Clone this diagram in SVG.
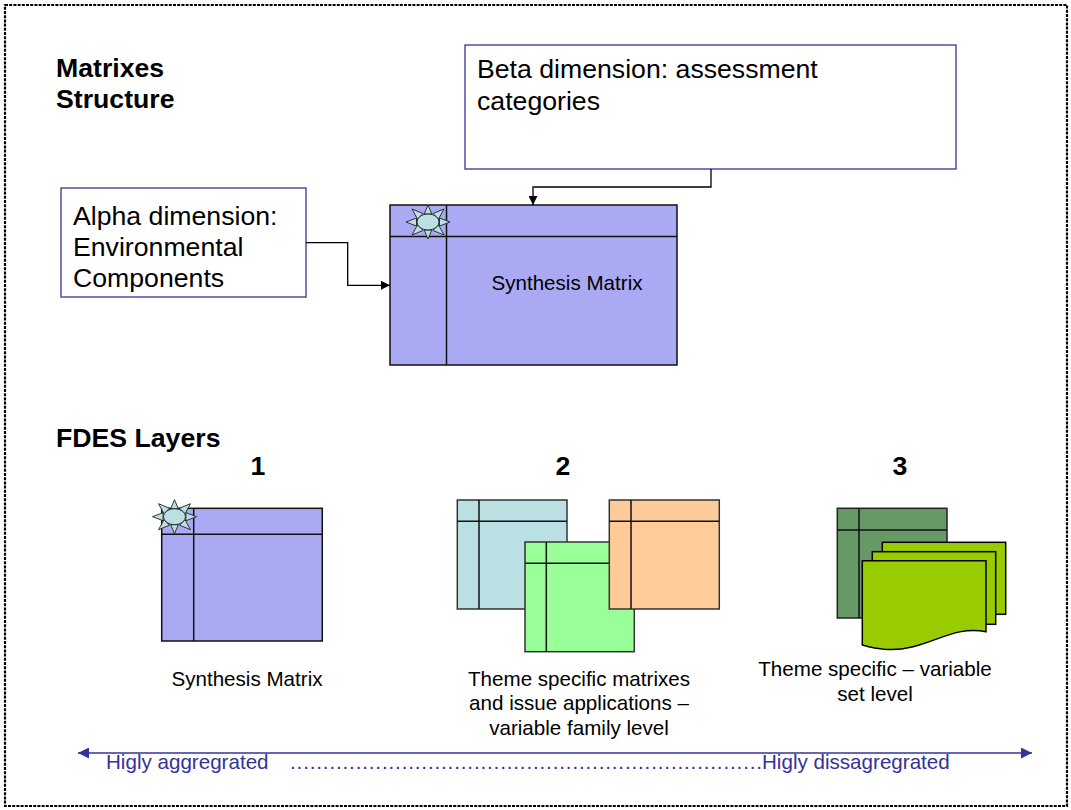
<svg xmlns="http://www.w3.org/2000/svg" width="1071" height="810" viewBox="0 0 1071 810">
<style>
  text { font-family: "Liberation Sans", Arial, sans-serif; fill: #000; }
  .big { font-size: 26.67px; }
  .bold { font-weight: bold; }
  .mid { font-size: 20.6px; }
  .blue { fill: #333399; }
  .box { fill: #fff; stroke: #333399; stroke-width: 1.3; }
  .grid { stroke: #111; stroke-width: 1.5; fill: none; }
  .conn { fill: none; stroke: #000; stroke-width: 1.3; }
  .axis { fill: none; stroke: #333399; stroke-width: 1.5; }
</style>
<defs>
  <marker id="arrowBlack" viewBox="0 0 10 10" refX="10" refY="5" markerWidth="9" markerHeight="9" markerUnits="userSpaceOnUse" orient="auto">
    <path d="M0,0 L10,5 L0,10 Z" fill="#000"/>
  </marker>
  <marker id="arrowBlue" viewBox="0 0 10 10" refX="10" refY="5" markerWidth="11" markerHeight="11" markerUnits="userSpaceOnUse" orient="auto-start-reverse">
    <path d="M0,0 L10,5 L0,10 Z" fill="#333399"/>
  </marker>
  <g id="sun" fill="#bbe0e3" stroke="#222" stroke-width="0.9">
    <polygon points="0,-17 -3.8,-8 3.8,-8"/>
    <polygon points="0,17 -3.8,8 3.8,8"/>
    <polygon points="-22,0 -11.5,-4 -11.5,4"/>
    <polygon points="22,0 11.5,-4 11.5,4"/>
    <polygon points="16,-13 5,-8.5 10.5,-3"/>
    <polygon points="-16,-13 -5,-8.5 -10.5,-3"/>
    <polygon points="16,13 5,8.5 10.5,3"/>
    <polygon points="-16,13 -5,8.5 -10.5,3"/>
    <ellipse cx="0" cy="0" rx="11" ry="8"/>
  </g>
</defs>

<rect x="5" y="5" width="1062" height="801" fill="none" stroke="#000" stroke-width="2.2" stroke-dasharray="3,1.2"/>

<g id="title-structure">
  <text class="big bold" x="56" y="77">Matrixes</text>
  <text class="big bold" x="56" y="108">Structure</text>
</g>

<g id="beta-box">
  <rect class="box" x="465" y="45" width="491" height="124"/>
  <text class="big" x="477" y="78">Beta dimension: assessment</text>
  <text class="big" x="477" y="110">categories</text>
</g>

<g id="alpha-box">
  <rect class="box" x="61" y="188" width="245" height="109"/>
  <text class="big" x="73" y="225">Alpha dimension:</text>
  <text class="big" x="73" y="256">Environmental</text>
  <text class="big" x="73" y="287">Components</text>
</g>

<g id="synthesis-matrix">
  <rect x="390" y="205" width="287" height="160" fill="#aaaaf4" stroke="#111" stroke-width="1.5"/>
  <line class="grid" x1="390" y1="236.5" x2="677" y2="236.5"/>
  <line class="grid" x1="446.5" y1="205" x2="446.5" y2="365"/>
  <use href="#sun" x="428" y="222"/>
  <text class="mid" x="567" y="290" text-anchor="middle">Synthesis Matrix</text>
</g>

<g id="connectors">
  <path class="conn" d="M711,169 V187 H533 V205" marker-end="url(#arrowBlack)"/>
  <path class="conn" d="M306,242.7 H347.7 V285.3 H390" marker-end="url(#arrowBlack)"/>
  <path class="axis" d="M78,753 H1032" marker-start="url(#arrowBlue)" marker-end="url(#arrowBlue)"/>
</g>

<g id="title-layers">
  <text class="big bold" x="56" y="447">FDES Layers</text>
  <text class="big bold" x="258" y="475" text-anchor="middle">1</text>
  <text class="big bold" x="563" y="475" text-anchor="middle">2</text>
  <text class="big bold" x="900" y="475" text-anchor="middle">3</text>
</g>

<g id="layer1">
  <rect x="161.7" y="508.3" width="160.6" height="132.7" fill="#aaaaf4" stroke="#111" stroke-width="1.5"/>
  <line class="grid" x1="161.7" y1="534.3" x2="322.3" y2="534.3"/>
  <line class="grid" x1="193.7" y1="508.3" x2="193.7" y2="641"/>
  <use href="#sun" x="174.5" y="516.7"/>
  <text class="mid" x="247" y="686" text-anchor="middle">Synthesis Matrix</text>
</g>

<g id="layer2">
  <rect x="457.3" y="500" width="109.7" height="109" fill="#bbe0e3" stroke="#333" stroke-width="1.5"/>
  <line class="grid" x1="457.3" y1="521.3" x2="567" y2="521.3"/>
  <line class="grid" x1="479" y1="500" x2="479" y2="609" stroke="#444"/>
  <rect x="525" y="542" width="109.3" height="109.7" fill="#99ff99" stroke="#333" stroke-width="1.5"/>
  <line class="grid" x1="525" y1="563.3" x2="634.3" y2="563.3"/>
  <line class="grid" x1="546.3" y1="542" x2="546.3" y2="651.7"/>
  <rect x="609.3" y="500" width="110" height="109" fill="#ffcc99" stroke="#333" stroke-width="1.5"/>
  <line class="grid" x1="609.3" y1="521.3" x2="719.3" y2="521.3"/>
  <line class="grid" x1="631" y1="500" x2="631" y2="609" stroke="#444"/>
  <text class="mid" x="579" y="686" text-anchor="middle">Theme specific matrixes</text>
  <text class="mid" x="579" y="710" text-anchor="middle">and issue applications –</text>
  <text class="mid" x="579" y="735" text-anchor="middle">variable family level</text>
</g>

<g id="layer3">
  <rect x="837.3" y="508.3" width="109.7" height="109.7" fill="#669966" stroke="#222" stroke-width="1.5"/>
  <line class="grid" x1="837.3" y1="530" x2="947" y2="530"/>
  <line class="grid" x1="859" y1="508.3" x2="859" y2="618"/>
  <rect x="882.3" y="542.3" width="123.4" height="72" fill="#99cc00" stroke="#000" stroke-width="1.5"/>
  <rect x="872.3" y="551.7" width="123.4" height="72.6" fill="#99cc00" stroke="#000" stroke-width="1.5"/>
  <path d="M862.3,560.7 H986 V631.7 C958,626 938,641 912,647 C892,652 877,649 862.3,645 Z" fill="#99cc00" stroke="#000" stroke-width="1.5"/>
  <text class="mid" x="875" y="676" text-anchor="middle">Theme specific – variable</text>
  <text class="mid" x="875" y="701" text-anchor="middle">set level</text>
</g>

<g id="axis-labels">
  <text class="mid blue" x="106" y="769">Higly aggregrated</text>
  <text class="mid blue" x="290" y="769" textLength="472" lengthAdjust="spacing">........................................................................</text>
  <text class="mid blue" x="762" y="769">Higly dissagregrated</text>
</g>
</svg>
